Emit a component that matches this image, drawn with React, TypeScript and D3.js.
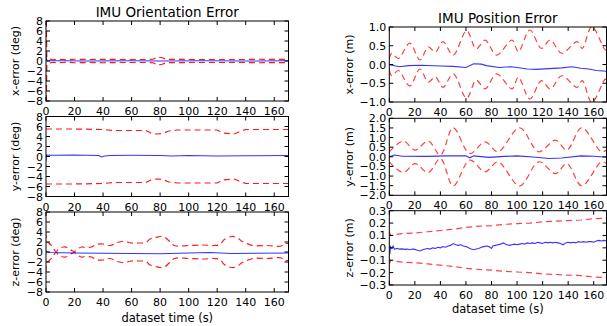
import React from "react";
import * as d3 from "d3";

type Pt = [number, number];

// shared axes
const timeDomain: [number, number] = [0, 170];
const timeTicks = [0, 20, 40, 60, 80, 100, 120, 140, 160];
const degTicks = [-8, -6, -4, -2, 0, 2, 4, 6, 8];
const posXTicks = [-1, -0.5, 0, 0.5, 1];
const posYTicks = [-2, -1.5, -1, -0.5, 0, 0.5, 1, 1.5, 2];
const posZTicks = [-0.3, -0.2, -0.1, 0, 0.1, 0.2, 0.3];

// orientation error (deg): estimate error and 3-sigma bound
const oriXErr: Pt[] = [[0, 1.4], [0.4, 0.3], [1, 0.05], [10, 0.05], [30, 0.0], [60, 0.05], [80, 0.0], [110, 0.05], [140, 0.0], [170, 0.05]];
const oriXSig: Pt[] = [[0, 12], [0.6, 0.7], [2, 0.4], [5, 0.25], [8, 0.35], [12, 0.3], [16, 0.25], [20, 0.35], [30, 0.3], [40, 0.35], [50, 0.3], [60, 0.3], [70, 0.3], [75, 0.35], [78, 0.75], [81, 0.7], [84, 0.35], [100, 0.3], [120, 0.3], [140, 0.3], [150, 0.35], [170, 0.3]];
const oriYErr: Pt[] = [[0, -0.8], [0.3, 0.3], [5, 0.25], [20, 0.3], [37, 0.2], [39, -0.1], [41, 0.1], [45, 0.2], [60, 0.25], [80, 0.2], [88, 0.1], [100, 0.2], [120, 0.1], [140, 0.15], [170, 0.2]];
const oriYSig: Pt[] = [[0, 5.5], [20, 5.5], [40, 5.4], [48, 5.2], [70, 5.2], [74, 4.6], [78, 4.5], [82, 4.6], [86, 5.1], [92, 5.3], [120, 5.3], [124, 4.7], [132, 4.5], [136, 5.0], [140, 5.4], [170, 5.4]];
const oriZErr: Pt[] = [[0, 0.2], [2, -0.1], [20, -0.2], [40, -0.25], [60, -0.3], [80, -0.35], [100, -0.2], [115, -0.1], [130, -0.3], [170, -0.2]];
const oriZSig: Pt[] = [[0, 12], [0.5, 2.2], [2, 1.8], [4, 1.2], [7, 0.1], [9, 0.6], [12, 1.0], [15, 0.9], [18, 0.3], [20, 0.1], [22, 0.6], [25, 1.0], [28, 0.9], [32, 1.0], [35, 1.5], [40, 1.6], [45, 1.3], [50, 1.9], [55, 2.1], [60, 1.8], [65, 1.8], [70, 1.9], [73, 2.6], [77, 2.9], [80, 3.1], [83, 3.0], [86, 2.3], [90, 1.3], [100, 1.3], [110, 1.4], [118, 1.3], [122, 1.5], [125, 2.5], [130, 3.1], [134, 2.9], [137, 2.2], [140, 1.8], [145, 1.3], [155, 1.3], [165, 1.2], [167, 1.7], [170, 1.7]];

// position error (m)
const posXErr: Pt[] = [[0, 0.0], [2, -0.02], [8, -0.06], [15, -0.03], [25, -0.02], [40, -0.04], [50, -0.05], [60, -0.08], [66, 0.02], [72, 0.01], [76, -0.03], [86, -0.08], [95, -0.06], [100, -0.08], [108, -0.12], [115, -0.13], [125, -0.11], [135, -0.09], [143, -0.06], [150, -0.1], [156, -0.12], [162, -0.16], [170, -0.18]];
const posXSig: Pt[] = [[0, 0.16], [2, 0.3], [7, 0.16], [16, 0.57], [24, 0.12], [30.5, 0.47], [36, 0.33], [42, 0.61], [50, 0.25], [60.5, 0.9], [68, 0.42], [75, 0.65], [84, 0.25], [96, 0.65], [101, 0.34], [110, 0.92], [119, 0.43], [126, 0.65], [135, 0.3], [147, 0.61], [151, 0.43], [158.5, 1.01], [169, 0.39], [170, 0.4]];
const posYErr: Pt[] = [[0, 0.0], [4, 0.09], [10, 0.03], [30, 0.02], [45, 0.05], [60, 0.05], [63, -0.05], [66, 0.05], [78, -0.03], [90, 0.02], [100, 0.05], [115, -0.02], [125, -0.09], [135, -0.06], [150, 0.05], [160, 0.03], [170, -0.02]];
const posYSig: Pt[] = [[0, 0.26], [11, 0.82], [20, 0.35], [30.5, 0.82], [40, 0.09], [50, 1.51], [63, 0.17], [75, 0.78], [85, 0.26], [102, 1.51], [117, 0.26], [130, 0.87], [139, 0.35], [150.6, 1.51], [166, 0.26], [170, 0.35]];
const posZErr: Pt[] = [[0, -0.03], [0.5, -0.04], [1, 0.01], [2, -0.005], [3, 0.015], [4, -0.01], [6, -0.005], [8, -0.01], [10, -0.008], [12, -0.012], [14, -0.01], [16, -0.015], [18, -0.01], [20, -0.012], [22, -0.02], [24, -0.025], [26, -0.015], [28, -0.01], [30, -0.005], [32, -0.01], [34, 0.0], [36, -0.005], [38, 0.005], [40, 0.0], [42, 0.01], [44, 0.005], [46, 0.015], [48, 0.02], [50, 0.035], [52, 0.025], [54, 0.02], [56, 0.025], [58, 0.015], [60, 0.01], [62, 0.0], [64, -0.01], [66, -0.015], [68, -0.01], [70, -0.005], [72, 0.005], [74, 0.01], [76, 0.015], [78, 0.01], [80, -0.005], [81, 0.015], [83, 0.02], [85, 0.025], [87, 0.03], [89, 0.04], [90, 0.035], [92, 0.025], [94, 0.02], [96, 0.025], [98, 0.03], [100, 0.025], [102, 0.03], [104, 0.035], [106, 0.03], [108, 0.04], [110, 0.035], [112, 0.04], [114, 0.035], [116, 0.045], [118, 0.04], [120, 0.035], [122, 0.045], [124, 0.04], [126, 0.045], [128, 0.04], [130, 0.045], [132, 0.04], [134, 0.035], [136, 0.025], [138, 0.04], [140, 0.045], [142, 0.04], [144, 0.045], [146, 0.04], [148, 0.05], [150, 0.045], [152, 0.05], [154, 0.045], [156, 0.05], [158, 0.05], [160, 0.045], [162, 0.055], [164, 0.06], [166, 0.055], [168, 0.06], [170, 0.055]];
const posZSig: Pt[] = [[0, 0.13], [1, 0.1], [3, 0.105], [10, 0.115], [20, 0.12], [30, 0.13], [40, 0.14], [50, 0.15], [60, 0.165], [70, 0.175], [80, 0.18], [90, 0.19], [100, 0.195], [110, 0.2], [120, 0.21], [130, 0.215], [140, 0.22], [150, 0.225], [160, 0.235], [170, 0.24]];

const FONT = "DejaVu Sans, sans-serif";

type PanelProps = {
  id: string;
  x0: number; x1: number; y0: number; y1: number;
  yDomain: [number, number];
  yTicks: number[];
  yFmt: (v: number) => string;
  yLabel: string;
  labelX: number;
  err: Pt[];
  sig: Pt[];
  smooth?: boolean;
  redOpacity: number;
};

const Panel = (p: PanelProps) => {
  const x = d3.scaleLinear().domain(timeDomain).range([p.x0, p.x1]);
  const y = d3.scaleLinear().domain(p.yDomain).range([p.y1, p.y0]);
  const curve = p.smooth ? d3.curveCatmullRom : d3.curveLinear;
  const line = d3.line<Pt>().x((d) => x(d[0])).y((d) => y(d[1])).curve(curve);
  const lineNeg = d3.line<Pt>().x((d) => x(d[0])).y((d) => y(-d[1])).curve(curve);
  const errLine = d3.line<Pt>().x((d) => x(d[0])).y((d) => y(d[1]));
  const tl = 4;
  return (
    <g>
      <defs>
        <clipPath id={p.id}>
          <rect x={p.x0} y={p.y0} width={p.x1 - p.x0} height={p.y1 - p.y0} />
        </clipPath>
      </defs>
      <g clipPath={`url(#${p.id})`}>
        <path d={line(p.sig) || ""} fill="none" stroke="#ff0000" strokeOpacity={p.redOpacity} strokeWidth={1.2} strokeDasharray="6,4" />
        <path d={lineNeg(p.sig) || ""} fill="none" stroke="#ff0000" strokeOpacity={p.redOpacity} strokeWidth={1.2} strokeDasharray="6,4" />
        <path d={errLine(p.err) || ""} fill="none" stroke="#0000ff" strokeOpacity={0.8} strokeWidth={1.1} />
      </g>
      <rect x={p.x0} y={p.y0} width={p.x1 - p.x0} height={p.y1 - p.y0} fill="none" stroke="#000" strokeWidth={1} />
      {timeTicks.map((t) => (
        <g key={`xt${t}`}>
          <line x1={x(t)} x2={x(t)} y1={p.y1} y2={p.y1 - tl} stroke="#000" />
          <line x1={x(t)} x2={x(t)} y1={p.y0} y2={p.y0 + tl} stroke="#000" />
          <text x={x(t)} y={p.y1 + 14} textAnchor="middle" fontSize={11} fontFamily={FONT} fill="#000">{t}</text>
        </g>
      ))}
      {p.yTicks.map((v) => (
        <g key={`yt${v}`}>
          <line x1={p.x0} x2={p.x0 + tl} y1={y(v)} y2={y(v)} stroke="#000" />
          <line x1={p.x1} x2={p.x1 - tl} y1={y(v)} y2={y(v)} stroke="#000" />
          <text x={p.x0 - 3} y={y(v) + 4} textAnchor="end" fontSize={11} fontFamily={FONT} fill="#000">{p.yFmt(v)}</text>
        </g>
      ))}
      <text transform={`translate(${p.labelX},${(p.y0 + p.y1) / 2}) rotate(-90)`} textAnchor="middle" dy="0.35em" fontSize={11} fontFamily={FONT} fill="#000">{p.yLabel}</text>
    </g>
  );
};

const fmtInt = d3.format("d");
const fmt1 = d3.format(".1f");

export default function App() {
  const L = { x0: 46, x1: 288.5 };
  const R = { x0: 389.3, x1: 606.5 };
  return (
    <svg width={607} height={326} style={{ position: "absolute", left: 0, top: 0, background: "#fff" }}>
      <text x={(L.x0 + L.x1) / 2} y={16.5} textAnchor="middle" fontSize={13.5} fontFamily={FONT}>IMU Orientation Error</text>
      <text x={(R.x0 + R.x1) / 2} y={22.5} textAnchor="middle" fontSize={13.5} fontFamily={FONT}>IMU Position Error</text>

      <Panel id="c1" {...L} y0={21} y1={101} yDomain={[-8, 8]} yTicks={degTicks} yFmt={fmtInt} yLabel="x-error (deg)" labelX={15} err={oriXErr} sig={oriXSig} redOpacity={0.9} />
      <Panel id="c2" {...L} y0={116.5} y1={196.5} yDomain={[-8, 8]} yTicks={degTicks} yFmt={fmtInt} yLabel="y-error (deg)" labelX={15} err={oriYErr} sig={oriYSig} redOpacity={0.9} />
      <Panel id="c3" {...L} y0={212} y1={292} yDomain={[-8, 8]} yTicks={degTicks} yFmt={fmtInt} yLabel="z-error (deg)" labelX={15} err={oriZErr} sig={oriZSig} smooth redOpacity={0.9} />

      <Panel id="c4" {...R} y0={27} y1={102} yDomain={[-1, 1]} yTicks={posXTicks} yFmt={fmt1} yLabel="x-error (m)" labelX={349} err={posXErr} sig={posXSig} smooth redOpacity={0.75} />
      <Panel id="c5" {...R} y0={118.3} y1={195.3} yDomain={[-2, 2]} yTicks={posYTicks} yFmt={fmt1} yLabel="y-error (m)" labelX={349} err={posYErr} sig={posYSig} smooth redOpacity={0.75} />
      <Panel id="c6" {...R} y0={210.7} y1={285} yDomain={[-0.3, 0.3]} yTicks={posZTicks} yFmt={fmt1} yLabel="z-error (m)" labelX={349} err={posZErr} sig={posZSig} redOpacity={0.75} />

      <text x={(L.x0 + L.x1) / 2} y={322} textAnchor="middle" fontSize={11.5} fontFamily={FONT}>dataset time (s)</text>
      <text x={(R.x0 + R.x1) / 2} y={313} textAnchor="middle" fontSize={11.5} fontFamily={FONT}>dataset time (s)</text>
    </svg>
  );
}
